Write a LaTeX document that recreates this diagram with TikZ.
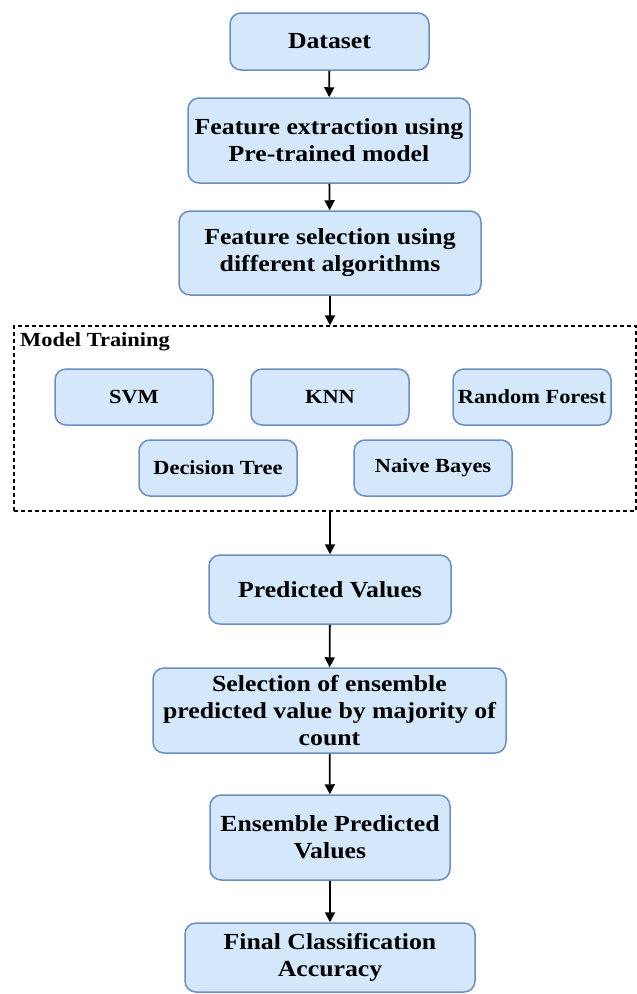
\documentclass[tikz,border=0pt]{standalone}
\usepackage{fontspec}
\setmainfont{Liberation Serif}[FakeStretch=1.12]
\usetikzlibrary{arrows.meta}
\definecolor{boxfill}{HTML}{D5E7FA}
\definecolor{boxline}{HTML}{6C8EBF}
\tikzset{
  flowbox/.style={draw=boxline, fill=boxfill, line width=1.5pt, rounded corners=11pt,
    align=center, inner sep=0pt,
    font=\fontsize{23}{27}\selectfont\bfseries},
  algbox/.style={flowbox, minimum width=158pt, minimum height=56pt,
    font=\fontsize{20}{24}\selectfont\bfseries},
  flowarrow/.style={draw=black, line width=1.8pt, -{Triangle[length=10pt,width=10pt]}},
  groupbox/.style={draw=black, line width=1.1pt, dash pattern=on 4pt off 3pt},
}
\begin{document}
\begin{tikzpicture}[x=1pt,y=-1pt]
\useasboundingbox (0,0) rectangle (637,994);

% main pipeline
\node[flowbox, minimum width=199pt, minimum height=57pt] (data) at (329.5,41.5) {Dataset};
\node[flowbox, minimum width=282pt, minimum height=85pt] (extract) at (329,140.5)
  {Feature extraction using\\Pre-trained model};
\node[flowbox, minimum width=302pt, minimum height=84pt] (select) at (330,253)
  {Feature selection using\\different algorithms};

% model training group
\node[groupbox, minimum width=622pt, minimum height=185pt, inner sep=0pt] (train) at (325,418.5) {};
\node[anchor=north west, inner sep=0pt, font=\fontsize{20}{24}\selectfont\bfseries]
  (trainlabel) at (20,332) {Model Training};
\node[algbox] (svm) at (134,397) {SVM};
\node[algbox] (knn) at (330,397) {KNN};
\node[algbox] (rf) at (532,397) {Random Forest};
\node[algbox] (dt) at (218,468) {Decision Tree};
\node[algbox] (nb) at (433,468) {Naive Bayes};

\node[flowbox, minimum width=242pt, minimum height=69pt] (pred) at (330,589.5) {Predicted Values};
\node[flowbox, minimum width=353pt, minimum height=85pt] (vote) at (329.5,710.5)
  {Selection of ensemble\\predicted value by majority of\\count};
\node[flowbox, minimum width=240pt, minimum height=85pt] (ens) at (330,837.5)
  {Ensemble Predicted\\Values};
\node[flowbox, minimum width=290pt, minimum height=69pt] (final) at (330,957.5)
  {Final Classification\\Accuracy};

% connectors
\draw[flowarrow] (data) -- (extract);
\draw[flowarrow] (extract) -- (select);
\draw[flowarrow] (select.south) -- (select.south |- train.north);
\draw[flowarrow] (train.south -| pred.north) -- (pred.north);
\draw[flowarrow] (pred) -- (vote);
\draw[flowarrow] (vote) -- (ens);
\draw[flowarrow] (ens) -- (final);
\end{tikzpicture}
\end{document}
